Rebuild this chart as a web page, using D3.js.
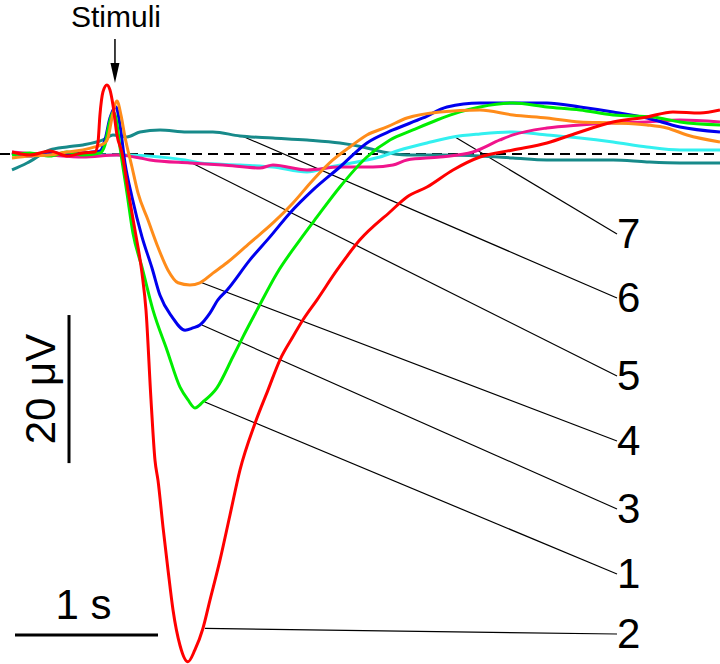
<!DOCTYPE html>
<html>
<head>
<meta charset="utf-8">
<script src="https://cdn.jsdelivr.net/npm/d3@7"></script>
<style>
  body { margin: 0; background: #fff; }
  svg { display: block; }
  text { font-family: "Liberation Sans", Arial, sans-serif; fill: #000; }
</style>
</head>
<body>
<script>
// traces: [time (s, stimulus at 0), potential (uV)]
var trace1 = [[-0.72,-0.14],[-0.594,0.14],[-0.455,-0.27],[-0.336,0.27],[-0.224,-0.14],[-0.105,0.14],[-0.07,1.22],[-0.042,3.92],[-0.014,5.68],[0.007,4.86],[0.035,0.95],[0.084,-5.27],[0.126,-10.7],[0.189,-15.3],[0.266,-21.1],[0.364,-26.5],[0.455,-31.5],[0.51,-33.2],[0.559,-34.3],[0.615,-33.5],[0.713,-31.6],[0.825,-27.4],[0.895,-24.7],[0.993,-21.1],[1.133,-16.1],[1.294,-11.6],[1.413,-8.51],[1.573,-4.46],[1.762,-0.41],[1.923,1.89],[2.084,3.24],[2.252,4.59],[2.413,5.68],[2.552,6.35],[2.783,6.89],[3.021,6.35],[3.252,5.95],[3.483,5.27],[3.762,5.0],[3.951,4.32],[4.231,3.92]];
var trace2 = [[-0.72,0.27],[-0.594,-0.14],[-0.455,0.41],[-0.336,-0.27],[-0.224,0.14],[-0.14,0.27],[-0.119,1.49],[-0.105,5.27],[-0.084,8.38],[-0.056,9.32],[-0.035,8.65],[-0.014,6.62],[0.014,2.57],[0.049,0.14],[0.091,-4.86],[0.14,-10.3],[0.189,-16.1],[0.217,-21.1],[0.252,-33.2],[0.28,-41.4],[0.301,-44.1],[0.336,-50.4],[0.371,-56.2],[0.406,-61.6],[0.455,-66.4],[0.51,-68.6],[0.559,-67.0],[0.615,-64.1],[0.664,-60.3],[0.734,-54.9],[0.804,-48.8],[0.874,-42.7],[0.979,-36.4],[1.07,-31.9],[1.154,-27.8],[1.238,-24.9],[1.315,-22.4],[1.413,-19.7],[1.552,-15.7],[1.713,-11.6],[1.923,-7.84],[2.042,-5.81],[2.182,-4.46],[2.364,-2.16],[2.552,-0.41],[2.783,0.54],[3.021,1.49],[3.231,2.84],[3.483,4.32],[3.72,5.0],[3.902,5.68],[4.091,5.54],[4.231,5.95]];
var trace3 = [[-0.72,0.14],[-0.594,-0.27],[-0.455,0.27],[-0.336,-0.14],[-0.224,0.14],[-0.105,0.41],[-0.07,1.89],[-0.035,4.86],[0.007,6.35],[0.035,3.92],[0.07,-1.22],[0.119,-5.81],[0.189,-11.2],[0.259,-15.4],[0.315,-19.1],[0.399,-22.0],[0.49,-23.8],[0.545,-23.5],[0.594,-23.1],[0.664,-21.5],[0.72,-19.7],[0.783,-18.4],[0.944,-14.3],[1.084,-11.2],[1.224,-7.97],[1.385,-4.86],[1.573,-1.76],[1.762,1.49],[1.944,3.24],[2.154,4.86],[2.322,6.35],[2.552,6.89],[2.783,6.89],[3.021,6.89],[3.252,6.35],[3.483,5.68],[3.72,4.86],[3.951,3.65],[4.231,2.97]];
var trace4 = [[-0.72,-0.54],[-0.594,-0.27],[-0.455,-0.14],[-0.336,0.27],[-0.224,0.54],[-0.14,0.95],[-0.07,1.49],[-0.049,2.16],[-0.021,4.86],[0.014,7.16],[0.042,5.27],[0.07,2.30],[0.119,-1.76],[0.161,-5.27],[0.231,-8.92],[0.301,-12.6],[0.371,-15.7],[0.441,-17.4],[0.524,-17.7],[0.594,-17.4],[0.685,-16.1],[0.783,-14.7],[0.944,-12.0],[1.105,-9.32],[1.245,-6.62],[1.385,-3.51],[1.524,-0.81],[1.643,0.95],[1.762,2.57],[1.902,3.65],[2.042,4.86],[2.273,5.68],[2.552,5.95],[2.783,5.27],[3.021,4.86],[3.252,4.32],[3.483,4.19],[3.72,3.92],[3.86,3.51],[4.0,2.57],[4.231,1.62]];
var trace5 = [[-0.72,0.27],[-0.455,-0.14],[-0.224,-0.41],[0.014,-0.14],[0.175,-0.54],[0.245,-0.81],[0.524,-1.22],[0.755,-1.49],[1.014,-1.89],[1.105,-1.49],[1.343,-2.16],[1.573,-1.76],[1.804,-1.76],[1.944,-1.49],[2.042,-0.81],[2.273,-0.41],[2.503,0.27],[2.692,1.89],[2.783,2.57],[3.021,3.51],[3.252,3.92],[3.483,4.19],[3.72,4.32],[3.951,4.59],[4.231,4.32]];
var trace6 = [[-0.72,-2.16],[-0.615,-1.22],[-0.455,0.54],[-0.336,0.95],[-0.224,1.22],[-0.084,1.89],[-0.014,2.57],[0.084,2.30],[0.175,2.97],[0.315,3.24],[0.503,2.97],[0.685,2.97],[0.874,2.43],[1.105,2.16],[1.343,1.89],[1.573,1.49],[1.734,0.95],[1.874,0.27],[2.042,-0.14],[2.273,-0.14],[2.552,-0.27],[2.783,-0.54],[3.021,-0.81],[3.252,-0.81],[3.483,-0.81],[3.72,-1.08],[3.951,-1.22],[4.231,-1.22]];
var trace7 = [[-0.72,0.14],[-0.455,-0.14],[-0.14,-0.14],[0.091,-0.14],[0.315,-0.41],[0.49,-0.81],[0.594,-1.22],[0.874,-1.49],[1.105,-1.76],[1.343,-2.43],[1.503,-1.76],[1.692,-1.08],[1.853,-0.41],[1.993,0.54],[2.182,1.49],[2.364,2.30],[2.552,2.70],[2.783,2.97],[3.021,2.57],[3.252,2.16],[3.483,1.62],[3.72,0.95],[3.951,0.54],[4.231,0.54]];

// drawing order (back to front) and the time where each label's leader line touches its trace
var traceNames = ["6", "7", "5", "3", "1", "4", "2"];
var traceColors = { "1": "#00ee00", "2": "#ff0000", "3": "#0000ee", "4": "#ff8c1a", "5": "#f0148c", "6": "#178a8a", "7": "#33f0f0" };
var traceData = { "1": trace1, "2": trace2, "3": trace3, "4": trace4, "5": trace5, "6": trace6, "7": trace7 };
var labelOrder = ["7", "6", "5", "4", "3", "1", "2"];
var leaderTimes = { "1": 0.615, "2": 0.615, "3": 0.594, "4": 0.594, "5": 0.524, "6": 0.874, "7": 2.364 };

var width = 720, height = 664;

var x = d3.scaleLinear().domain([-0.72, 4.231]).range([12, 720]);
var y = d3.scaleLinear().domain([20.8, -68.9]).range([0, 664]);

var svg = d3.select("body").append("svg")
  .attr("width", width)
  .attr("height", height);

// baseline
svg.append("line")
  .attr("x1", 0).attr("x2", width)
  .attr("y1", y(0)).attr("y2", y(0))
  .attr("stroke", "#000")
  .attr("stroke-width", 2)
  .attr("stroke-dasharray", "10,6");

var line = d3.line()
  .curve(d3.curveMonotoneX)
  .x(function(d) { return x(d[0]); })
  .y(function(d) { return y(d[1]); });

// leader lines
var labelBase = [248, 312, 390, 455, 523, 588, 648];
var labelX = 617;

function anchor(k) {
  return traceData[k].find(function(d) { return d[0] === leaderTimes[k]; });
}

svg.selectAll(".leader")
  .data(labelOrder)
  .enter().append("line")
  .attr("class", "leader")
  .attr("x1", function(k) { return x(anchor(k)[0]) + 2; })
  .attr("y1", function(k) { return y(anchor(k)[1]); })
  .attr("x2", labelX)
  .attr("y2", function(k, i) { return labelBase[i] - 14; })
  .attr("stroke", "#000")
  .attr("stroke-width", 1.2);

svg.selectAll(".trace")
  .data(traceNames)
  .enter().append("path")
  .attr("class", "trace")
  .attr("d", function(k) { return line(traceData[k]); })
  .attr("fill", "none")
  .attr("stroke", function(k) { return traceColors[k]; })
  .attr("stroke-width", 3)
  .attr("stroke-linejoin", "round");

svg.selectAll(".lab")
  .data(labelOrder)
  .enter().append("text")
  .attr("class", "lab")
  .attr("x", labelX)
  .attr("y", function(k, i) { return labelBase[i]; })
  .attr("font-size", 42)
  .text(function(k) { return k; });

// stimulus marker
svg.append("text")
  .attr("x", x(0) + 1)
  .attr("y", 27)
  .attr("text-anchor", "middle")
  .attr("font-size", 30)
  .text("Stimuli");

svg.append("line")
  .attr("x1", x(0)).attr("x2", x(0))
  .attr("y1", 39).attr("y2", 66)
  .attr("stroke", "#000")
  .attr("stroke-width", 1.5);

svg.append("path")
  .attr("d", "M" + (x(0) - 4.5) + ",63L" + (x(0) + 4.5) + ",63L" + x(0) + ",83Z")
  .attr("fill", "#000");

// scale bars
var vBarBottom = -41.76;
svg.append("line")
  .attr("x1", 69).attr("x2", 69)
  .attr("y1", y(vBarBottom + 20)).attr("y2", y(vBarBottom))
  .attr("stroke", "#000")
  .attr("stroke-width", 3);

svg.append("text")
  .attr("transform", "translate(55," + y(vBarBottom + 10) + ") rotate(-90)")
  .attr("text-anchor", "middle")
  .attr("font-size", 42)
  .text("20 \u03bcV");

var hBarStart = -0.699;
svg.append("line")
  .attr("x1", x(hBarStart)).attr("x2", x(hBarStart + 1))
  .attr("y1", 635).attr("y2", 635)
  .attr("stroke", "#000")
  .attr("stroke-width", 3);

svg.append("text")
  .attr("x", (x(hBarStart) + x(hBarStart + 1)) / 2 - 3)
  .attr("y", 619)
  .attr("text-anchor", "middle")
  .attr("font-size", 42)
  .text("1 s");
</script>
</body>
</html>
